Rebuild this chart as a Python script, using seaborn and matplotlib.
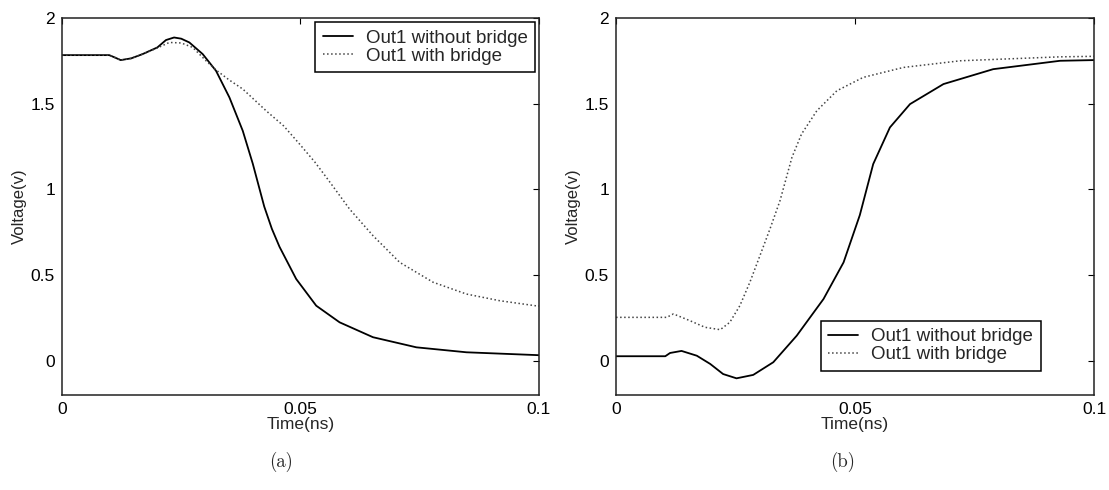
import numpy as np
import pandas as pd
import seaborn as sns
import matplotlib.pyplot as plt

# (a)
t_a_without = [0.0, 0.0099, 0.0111, 0.0123, 0.0145, 0.0169, 0.020, 0.0218, 0.0235, 0.0250, 0.0267, 0.0295,
               0.0323, 0.0351, 0.0379, 0.040, 0.0424, 0.0440, 0.0456, 0.0491, 0.0533, 0.0582, 0.0652,
               0.0743, 0.0848, 0.0992, 0.1]
v_a_without = [1.784, 1.784, 1.77, 1.755, 1.765, 1.79, 1.829, 1.872, 1.887, 1.88, 1.858, 1.79,
               1.692, 1.537, 1.342, 1.15, 0.90, 0.77, 0.665, 0.477, 0.321, 0.224, 0.137,
               0.078, 0.049, 0.033, 0.032]

t_a_with = [0.0, 0.0099, 0.0111, 0.0123, 0.0145, 0.0169, 0.020, 0.0225, 0.0250, 0.0274, 0.0302, 0.0323,
            0.0350, 0.0379, 0.0428, 0.0465, 0.0498, 0.0530, 0.0557, 0.0603, 0.0652, 0.0708, 0.0778,
            0.0848, 0.0918, 0.0992, 0.1]
v_a_with = [1.784, 1.784, 1.77, 1.755, 1.765, 1.79, 1.826, 1.858, 1.855, 1.829, 1.751, 1.697,
            1.64, 1.586, 1.459, 1.37, 1.265, 1.16, 1.06, 0.885, 0.73, 0.574, 0.458,
            0.389, 0.35, 0.321, 0.319]

# (b)
t_b_without = [0.0, 0.0103, 0.0113, 0.0137, 0.0169, 0.0197, 0.0224, 0.0252, 0.0287, 0.0329, 0.0378,
               0.0434, 0.0476, 0.0510, 0.0538, 0.0573, 0.0615, 0.0685, 0.0789, 0.0929, 0.1]
v_b_without = [0.026, 0.026, 0.045, 0.057, 0.029, -0.019, -0.078, -0.103, -0.083, -0.009, 0.146,
               0.36, 0.574, 0.85, 1.148, 1.362, 1.498, 1.615, 1.702, 1.751, 1.755]

t_b_with = [0.0, 0.0106, 0.012, 0.0155, 0.0186, 0.0218, 0.0238, 0.0259, 0.028, 0.0301, 0.0322,
            0.0343, 0.0368, 0.0388, 0.0420, 0.0462, 0.0517, 0.0601, 0.0720, 0.0929, 0.1]
v_b_with = [0.253, 0.253, 0.273, 0.233, 0.195, 0.181, 0.224, 0.321, 0.458, 0.613, 0.769,
            0.934, 1.187, 1.323, 1.459, 1.576, 1.654, 1.712, 1.751, 1.774, 1.777]

xticks = [0, 0.05, 0.1]
xticklabels = ['0', '0.05', '0.1']
yticks = [0, 0.5, 1, 1.5, 2]
yticklabels = ['0', '0.5', '1', '1.5', '2']

sns.set_style('white')
plt.rcParams['font.family'] = ['Liberation Sans', 'DejaVu Sans']

fig = plt.figure(figsize=(11.09, 4.9), dpi=100)
ax_a = fig.add_axes([0.0559, 0.194, 0.4301, 0.769])
ax_b = fig.add_axes([0.5555, 0.194, 0.4310, 0.769])

panels = [
    (ax_a, t_a_without, v_a_without, t_a_with, v_a_with),
    (ax_b, t_b_without, v_b_without, t_b_with, v_b_with),
]

for ax, t1, v1, t2, v2 in panels:
    sns.lineplot(x=t1, y=v1, ax=ax, color='black', linewidth=1.3,
                 label='Out1 without bridge', sort=False)
    sns.lineplot(x=t2, y=v2, ax=ax, color='#444444', linewidth=1.1, linestyle=':',
                 label='Out1 with bridge', sort=False)
    ax.set_xlim(0, 0.1)
    ax.set_ylim(-0.2, 2)
    ax.set_xticks(xticks)
    ax.set_xticklabels(xticklabels)
    ax.set_yticks(yticks)
    ax.set_yticklabels(yticklabels)
    ax.tick_params(direction='in', top=True, right=True, length=4, width=0.8,
                   labelsize=12.5, colors='black', pad=5)
    for s in ax.spines.values():
        s.set_color('#222222')
        s.set_linewidth(1.1)
    ax.set_xlabel('Time(ns)', fontsize=12.5, labelpad=0)
    ax.set_ylabel('Voltage(v)', fontsize=12, labelpad=3)

leg_kw = dict(fontsize=13.5, frameon=True, fancybox=False, edgecolor='black', framealpha=1,
              handlelength=1.6, handletextpad=0.7, borderpad=0.4, labelspacing=0.05)
leg_a = ax_a.legend(loc='upper right', bbox_to_anchor=(1.0, 1.0), borderaxespad=0.2, **leg_kw)
leg_b = ax_b.legend(loc='lower left', bbox_to_anchor=(0.428, 0.064), borderaxespad=0.0, **leg_kw)
for leg in (leg_a, leg_b):
    leg.get_frame().set_linewidth(1.1)

fig.text(0.253, 0.058, '(a)', ha='center', va='center', fontsize=13.5, family='cmr10')
fig.text(0.760, 0.058, '(b)', ha='center', va='center', fontsize=13.5, family='cmr10')

fig.savefig('out.png', dpi=100)
